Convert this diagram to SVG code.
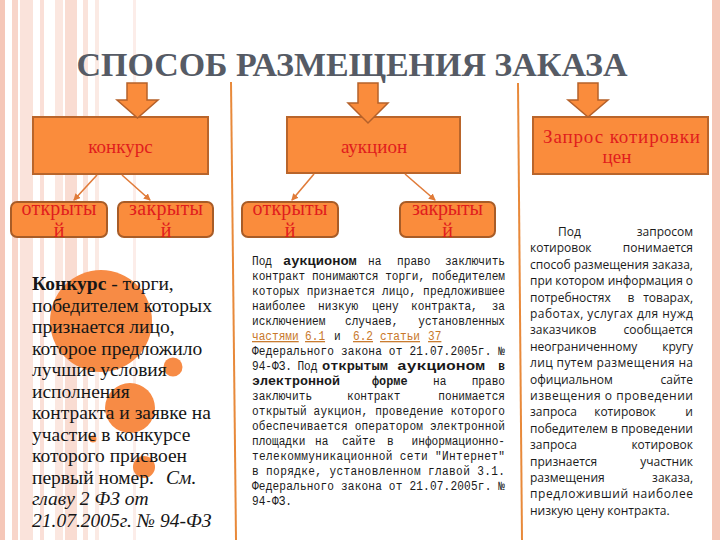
<svg xmlns="http://www.w3.org/2000/svg" width="720" height="540" viewBox="0 0 720 540">
<defs>
<style>
.box{fill:#fa8c3c;stroke:#b9652b;stroke-width:2}
.sub{fill:#fa8c3c;stroke:#a85c27;stroke-width:2}
.arr{fill:#fa8c3c;stroke:#b5612a;stroke-width:1.5}
text.red{font-family:"Liberation Serif",serif;fill:#e11d1d}
.con{stroke:#e07b39;stroke-width:1.6;fill:none;marker-end:url(#ah)}
.ser{font-family:"Liberation Serif",serif;font-size:19.5px;fill:#161616}
.mono{font-family:"Liberation Mono",monospace;font-size:12.5px;fill:#1a1a1a}
.link{fill:#c8782a;text-decoration:underline}
.sans{font-family:"Open Sans","Liberation Sans",sans-serif;font-size:12px;fill:#1a1a1a}
.dot{fill:#f78b45}
.st{fill:#f3b9a6}
</style>
<marker id="ah" markerWidth="7" markerHeight="7" refX="6" refY="3.5" orient="auto" markerUnits="userSpaceOnUse">
<path d="M0,0 L7,3.5 L0,7 z" fill="#e07b39"/>
</marker>
</defs>
<rect width="720" height="540" fill="#ffffff"/>
<g id="background">
<rect class="st" x="0" y="0" width="5" height="540" opacity="0.8"/>
<rect class="st" x="12" y="0" width="6" height="540" opacity="0.6"/>
<rect class="st" x="20" y="0" width="13" height="540" opacity="0.4"/>
<rect class="st" x="40" y="0" width="4" height="540" opacity="0.45"/>
<rect class="st" x="55" y="0" width="8" height="540" opacity="0.35"/>
<rect class="st" x="65" y="0" width="12" height="540" opacity="0.5"/>
<rect class="st" x="83" y="0" width="5" height="540" opacity="0.4"/>
<rect class="st" x="95" y="0" width="4" height="540" opacity="0.3"/>
<rect class="st" x="133" y="0" width="3" height="540" opacity="0.25"/>
<rect class="st" x="712" y="0" width="8" height="540" opacity="0.8"/>
<path d="M231,82 L236,540" stroke="#e8893a" stroke-width="2" fill="none"/>
<path d="M518,83 L522,540" stroke="#e8893a" stroke-width="2" fill="none"/>
</g>
<g id="title">
<text x="352" y="76" text-anchor="middle" textLength="551" lengthAdjust="spacingAndGlyphs" style="font-family:'Liberation Serif',serif;font-weight:bold;font-size:34px" fill="#565b65">СПОСОБ РАЗМЕЩЕНИЯ ЗАКАЗА</text>
</g>
<g id="node-konkurs">
<rect class="box" x="33" y="117" width="175" height="57"/>
<text class="red" x="120.5" y="153" text-anchor="middle" style="font-family:'Liberation Serif',serif;font-size:19px">конкурс</text>
</g>
<g id="node-konkurs-open">
<rect class="sub" x="11" y="202" width="96" height="35" rx="6"/>
<text class="red" x="59" y="215" text-anchor="middle" textLength="75" style="font-family:'Liberation Serif',serif;font-size:20px">открыты</text>
<text class="red" x="59" y="237" text-anchor="middle" style="font-family:'Liberation Serif',serif;font-size:20px">й</text>
</g>
<g id="node-konkurs-closed">
<rect class="sub" x="118" y="202" width="95" height="35" rx="6"/>
<text class="red" x="166" y="215" text-anchor="middle" textLength="74" style="font-family:'Liberation Serif',serif;font-size:20px">закрыты</text>
<text class="red" x="166" y="237" text-anchor="middle" style="font-family:'Liberation Serif',serif;font-size:20px">й</text>
</g>
<g id="node-auction">
<rect class="box" x="287" y="117" width="173" height="56"/>
<text class="red" x="374" y="153" text-anchor="middle" style="font-family:'Liberation Serif',serif;font-size:19px">аукцион</text>
</g>
<g id="node-auction-open">
<rect class="sub" x="242" y="202" width="96" height="35" rx="6"/>
<text class="red" x="290" y="215" text-anchor="middle" textLength="75" style="font-family:'Liberation Serif',serif;font-size:20px">открыты</text>
<text class="red" x="290" y="237" text-anchor="middle" style="font-family:'Liberation Serif',serif;font-size:20px">й</text>
</g>
<g id="node-auction-closed">
<rect class="sub" x="400" y="202" width="95" height="35" rx="6"/>
<text class="red" x="447.5" y="215" text-anchor="middle" textLength="71" style="font-family:'Liberation Serif',serif;font-size:20px">закрыты</text>
<text class="red" x="447.5" y="237" text-anchor="middle" style="font-family:'Liberation Serif',serif;font-size:20px">й</text>
</g>
<g id="node-quote">
<rect class="box" x="533" y="117" width="175" height="57"/>
<text class="red" x="543" y="143" textLength="157" lengthAdjust="spacing" style="font-family:'Liberation Serif',serif;font-size:19px">Запрос  котировки</text>
<text class="red" x="617" y="163" text-anchor="middle" style="font-family:'Liberation Serif',serif;font-size:19px">цен</text>
</g>
<g id="connectors">
<polygon class="arr" points="127,83 147,83 147,100 158,100 137.5,118 117,100 127,100"/>
<polygon class="arr" points="358,83 378,83 378,103 388,103 368,123 348,103 358,103"/>
<polygon class="arr" points="578,83 598,83 598,100 608,100 588,117 568,100 578,100"/>
<line class="con" x1="97" y1="175" x2="74" y2="200"/>
<line class="con" x1="122" y1="175" x2="150" y2="200"/>
<line class="con" x1="314" y1="174" x2="292" y2="200"/>
<line class="con" x1="405" y1="174" x2="435" y2="200"/>
</g>
<g id="konkurs-text">
<circle class="dot" cx="101" cy="321" r="51"/>
<circle class="dot" cx="130" cy="408" r="25"/>
<circle class="dot" cx="173" cy="367" r="9.5"/>
<circle class="dot" cx="144" cy="467" r="11"/>
<circle class="dot" cx="93" cy="439" r="3.5"/>
<text class="ser" x="32" y="290"><tspan font-weight="bold">Конкурс</tspan> - торги,</text>
<text class="ser" x="32" y="311.5">победителем которых</text>
<text class="ser" x="32" y="333">признается лицо,</text>
<text class="ser" x="32" y="354.5">которое предложило</text>
<text class="ser" x="32" y="376">лучшие условия</text>
<text class="ser" x="32" y="397.5">исполнения</text>
<text class="ser" x="32" y="419">контракта и заявке на</text>
<text class="ser" x="32" y="440.5">участие в конкурсе</text>
<text class="ser" x="32" y="462">которого присвоен</text>
<text class="ser" x="32" y="483.5">первый номер.<tspan x="166" font-style="italic">См.</tspan></text>
<text class="ser" x="32" y="505" font-style="italic">главу 2 ФЗ от</text>
<text class="ser" x="32" y="526.5" font-style="italic">21.07.2005г. № 94-ФЗ</text>
</g>
<g id="auction-text" transform="translate(252 0) scale(0.89 1)">
<text class="mono" y="265"><tspan x="0">Под</tspan><tspan x="34.8" font-weight="bold" textLength="83" lengthAdjust="spacingAndGlyphs">аукционом</tspan><tspan x="130.3">на</tspan><tspan x="163">право</tspan><tspan x="284.3" text-anchor="end">заключить</tspan></text>
<text class="mono" x="0" y="280" textLength="284.3" lengthAdjust="spacing">контракт понимаются торги, победителем</text>
<text class="mono" x="0" y="295" textLength="284.3" lengthAdjust="spacing">которых признается лицо, предложившее</text>
<text class="mono" y="310"><tspan x="0">наиболее</tspan><tspan x="74.2">низкую</tspan><tspan x="134.8">цену</tspan><tspan x="178.7">контракта,</tspan><tspan x="284.3" text-anchor="end">за</tspan></text>
<text class="mono" y="325"><tspan x="0">исключением</tspan><tspan x="104.5">случаев,</tspan><tspan x="284.3" text-anchor="end">установленных</tspan></text>
<text class="mono" y="340"><tspan class="link" x="0">частями</tspan><tspan class="link" x="59.6">6.1</tspan><tspan x="92.1">и</tspan><tspan class="link" x="113.5">6.2</tspan><tspan class="link" x="143.8">статьи</tspan><tspan class="link" x="197.8">37</tspan></text>
<text class="mono" x="0" y="355" textLength="284.3" lengthAdjust="spacing">Федерального закона от 21.07.2005г. №</text>
<text class="mono" y="370"><tspan x="0">94-ФЗ.</tspan><tspan x="51">Под</tspan><tspan x="78.7" font-weight="bold" textLength="74" lengthAdjust="spacingAndGlyphs">открытым</tspan><tspan x="163" font-weight="bold" textLength="99" lengthAdjust="spacingAndGlyphs">аукционом</tspan><tspan x="284.3" text-anchor="end" font-weight="bold">в</tspan></text>
<text class="mono" y="385"><tspan x="0" font-weight="bold" textLength="99" lengthAdjust="spacingAndGlyphs">электронной</tspan><tspan x="134.8" font-weight="bold" textLength="40" lengthAdjust="spacingAndGlyphs">форме</tspan><tspan x="203.4">на</tspan><tspan x="284.3" text-anchor="end">право</tspan></text>
<text class="mono" y="400"><tspan x="0">заключить</tspan><tspan x="106.7">контракт</tspan><tspan x="284.3" text-anchor="end">понимается</tspan></text>
<text class="mono" x="0" y="415" textLength="284.3" lengthAdjust="spacing">открытый аукцион, проведение которого</text>
<text class="mono" x="0" y="430" textLength="284.3" lengthAdjust="spacing">обеспечивается оператором электронной</text>
<text class="mono" y="445"><tspan x="0">площадки</tspan><tspan x="70.8">на</tspan><tspan x="101.1">сайте</tspan><tspan x="151.7">в</tspan><tspan x="284.3" text-anchor="end">информационно-</tspan></text>
<text class="mono" x="0" y="460" textLength="284.3" lengthAdjust="spacing">телекоммуникационной сети "Интернет"</text>
<text class="mono" x="0" y="475" textLength="284.3" lengthAdjust="spacing">в порядке, установленном главой 3.1.</text>
<text class="mono" x="0" y="490" textLength="284.3" lengthAdjust="spacing">Федерального закона от 21.07.2005г. №</text>
<text class="mono" x="0" y="505">94-ФЗ.</text>
</g>
<g id="quote-text">
<text class="sans" y="236"><tspan x="558">Под</tspan><tspan x="693" text-anchor="end">запросом</tspan></text>
<text class="sans" y="252.4"><tspan x="530">котировок</tspan><tspan x="693" text-anchor="end">понимается</tspan></text>
<text class="sans" x="530" y="268.8" textLength="163" lengthAdjust="spacingAndGlyphs">способ размещения заказа,</text>
<text class="sans" x="530" y="285.2" textLength="163" lengthAdjust="spacingAndGlyphs">при котором информация о</text>
<text class="sans" y="301.6"><tspan x="530">потребностях</tspan><tspan x="631" text-anchor="middle">в</tspan><tspan x="693" text-anchor="end">товарах,</tspan></text>
<text class="sans" x="530" y="318" textLength="163" lengthAdjust="spacing">работах, услугах для нужд</text>
<text class="sans" y="334.4"><tspan x="530">заказчиков</tspan><tspan x="693" text-anchor="end">сообщается</tspan></text>
<text class="sans" y="350.8"><tspan x="530">неограниченному</tspan><tspan x="693" text-anchor="end">кругу</tspan></text>
<text class="sans" x="530" y="367.2" textLength="163" lengthAdjust="spacing">лиц путем размещения на</text>
<text class="sans" y="383.6"><tspan x="530">официальном</tspan><tspan x="693" text-anchor="end">сайте</tspan></text>
<text class="sans" x="530" y="400" textLength="163" lengthAdjust="spacing">извещения о проведении</text>
<text class="sans" y="416.4"><tspan x="530">запроса</tspan><tspan x="625" text-anchor="middle">котировок</tspan><tspan x="693" text-anchor="end">и</tspan></text>
<text class="sans" x="530" y="432.8" textLength="163" lengthAdjust="spacingAndGlyphs">победителем в проведении</text>
<text class="sans" y="449.2"><tspan x="530">запроса</tspan><tspan x="693" text-anchor="end">котировок</tspan></text>
<text class="sans" y="465.6"><tspan x="530">признается</tspan><tspan x="693" text-anchor="end">участник</tspan></text>
<text class="sans" y="482"><tspan x="530">размещения</tspan><tspan x="693" text-anchor="end">заказа,</tspan></text>
<text class="sans" x="530" y="498.4" textLength="163" lengthAdjust="spacing">предложивший наиболее</text>
<text class="sans" x="530" y="514.8">низкую цену контракта.</text>
</g>
</svg>
